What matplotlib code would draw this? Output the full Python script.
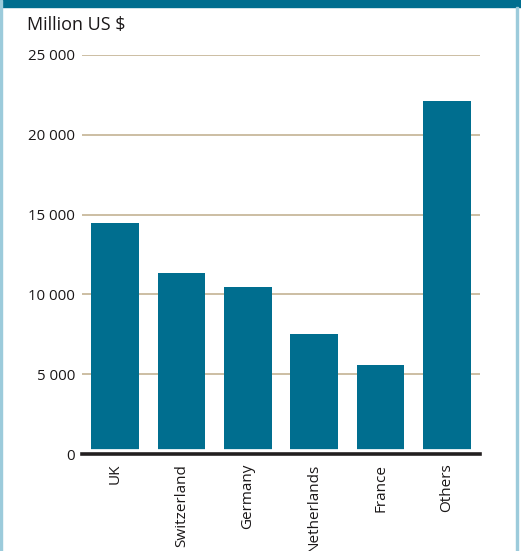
import matplotlib.pyplot as plt
from matplotlib.patches import Rectangle

countries = ["UK", "Switzerland", "Germany", "Netherlands", "France", "Others"]
values = [14500, 11350, 10450, 7500, 5600, 22100]
yticks = [0, 5000, 10000, 15000, 20000, 25000]
ytick_labels = ["0", "5 000", "10 000", "15 000", "20 000", "25 000"]

bar_color = "#006e8f"
grid_color = "#c8b99c"
text_color = "#1a1718"
plt.rcParams['font.family'] = ['Open Sans', 'DejaVu Sans']

fig = plt.figure(figsize=(5.21, 5.51), dpi=100)

# frame: dark band on top, thin light blue sides
fig.patches.append(Rectangle((0, 1 - 7/551), 1, 7/551, transform=fig.transFigure,
                             color=bar_color, zorder=0))
fig.patches.append(Rectangle((0, 0), 2/521, 1, transform=fig.transFigure,
                             color="#9ccbdb", zorder=0))
fig.patches.append(Rectangle((516/521, 0), 2/521, 1 - 7/551, transform=fig.transFigure,
                             color="#9ccbdb", zorder=0))

ax = fig.add_axes([82/521, 1 - 454/551, 398/521, 399/551])
x = range(len(countries))
ax.bar(x, values, width=0.72, color=bar_color, zorder=2)
ax.set_xlim(-0.5, len(countries) - 0.5)
ax.set_ylim(0, 25000)

for y in yticks[1:]:
    ax.axhline(y, color=grid_color, lw=1.3, zorder=1)
ax.axhline(0, color="white", lw=7, zorder=3)
ax.axhline(0, color="#231f20", lw=2.6, zorder=4, clip_on=False)

ax.set_yticks(yticks)
ax.set_yticklabels(ytick_labels, fontsize=10.8, color=text_color)
ax.set_xticks(list(x))
ax.set_xticklabels(countries, rotation=90, fontsize=11, color=text_color, va="top")
ax.tick_params(length=0)
ax.tick_params(axis="y", pad=5)
ax.tick_params(axis="x", pad=7)
for s in ax.spines.values():
    s.set_visible(False)

fig.text(27/521, 1 - 25/551, "Million US $", fontsize=13, color=text_color, va="center")

fig.savefig("out.png", dpi=100)
